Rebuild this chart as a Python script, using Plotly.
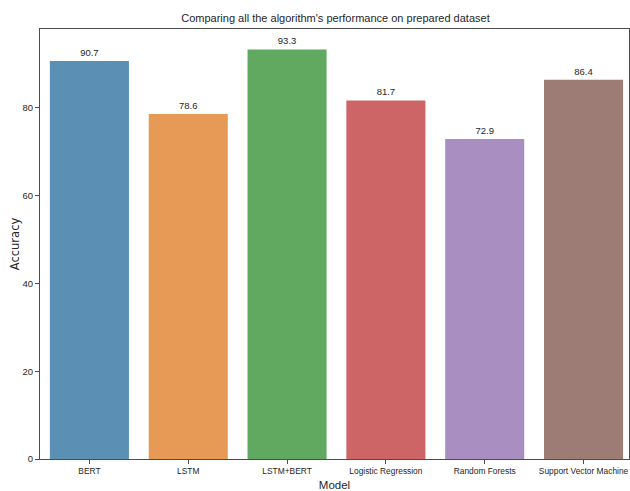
import plotly.graph_objects as go

models = ["BERT", "LSTM", "LSTM+BERT", "Logistic Regression", "Random Forests", "Support Vector Machine"]
accuracy = [90.7, 78.6, 93.3, 81.7, 72.9, 86.4]
bar_colors = ["#5b90b4", "#e79a56", "#61a861", "#cd6465", "#a98ec1", "#9d7c75"]
y_ticks = [0, 20, 40, 60, 80]

font_main = "Liberation Sans, Arial, sans-serif"
ink = "#262626"
spine = "#4d4d4d"

fig = go.Figure(
    go.Bar(
        x=models,
        y=accuracy,
        marker=dict(color=bar_colors, line=dict(width=0)),
        width=0.8,
        text=[f"{v:.1f}" for v in accuracy],
        textposition="outside",
        textfont=dict(family=font_main, size=9.5, color=ink),
        cliponaxis=False,
    )
)

fig.update_layout(
    width=630,
    height=491,
    margin=dict(l=40, r=1, t=29, b=32),
    paper_bgcolor="white",
    plot_bgcolor="white",
    showlegend=False,
    title=dict(
        text="Comparing all the algorithm's performance on prepared dataset",
        x=0.5325, xanchor="center", y=0.963, yanchor="middle",
        font=dict(family=font_main, size=11, color=ink),
    ),
)

fig.update_xaxes(
    range=[-0.5, 5.46],
    automargin=False,
    tickangle=0,
    showline=True, linecolor=spine, linewidth=1, mirror=True,
    ticks="outside", ticklen=4, tickcolor=spine,
    showgrid=False,
    tickfont=dict(family=font_main, size=8.4, color=ink),
    title=dict(text="Model", font=dict(family=font_main, size=11.5, color=ink), standoff=6),
)
fig.update_yaxes(
    range=[0, 97.965],
    automargin=False,
    tickvals=y_ticks,
    showline=True, linecolor=spine, linewidth=1, mirror=True,
    ticks="outside", ticklen=4, tickcolor=spine,
    showgrid=False, zeroline=False,
    tickfont=dict(family=font_main, size=9.5, color=ink),
    title=dict(text="Accuracy", font=dict(family="DejaVu Sans", size=11.5, color=ink), standoff=0),
)

fig.write_html("out.html")
